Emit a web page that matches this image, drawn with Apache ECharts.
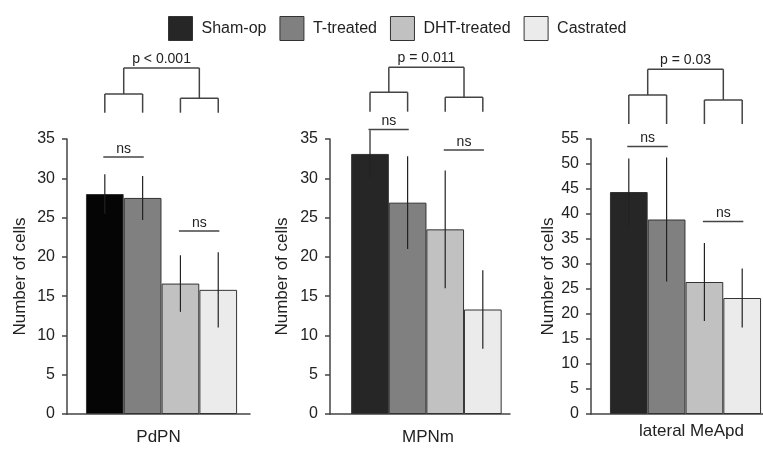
<!DOCTYPE html>
<html>
<head>
<meta charset="utf-8">
<script src="https://cdn.jsdelivr.net/npm/echarts@6.0.0/dist/echarts.min.js"></script>
<style>
  html, body { margin: 0; padding: 0; background: #fff; }
  #main { width: 763px; height: 451px; }
</style>
</head>
<body>
<div id="main"></div>
<script>
// data
var groups = ['Sham-op', 'T-treated', 'DHT-treated', 'Castrated'];
var regions = ['PdPN', 'MPNm', 'lateral MeApd'];
var yMax = [35, 35, 55];
var meanPdPN = [28.0, 27.5, 16.6, 15.8];
var errPdPN = [2.5, 2.8, 3.6, 4.8];
var meanMPNm = [33.1, 26.9, 23.5, 13.3];
var errMPNm = [3.0, 5.9, 7.5, 5.0];
var meanMeApd = [44.4, 38.9, 26.4, 23.2];
var errMeApd = [6.7, 12.4, 7.8, 5.9];
var pLabels = ['p < 0.001', 'p = 0.011', 'p = 0.03'];
var nsLabel = 'ns';

var means = [meanPdPN, meanMPNm, meanMeApd];
var errs = [errPdPN, errMPNm, errMeApd];

// layout
var font = 'Liberation Sans';
var barColors = [['#050505', '#262626', '#262626'], '#808080', '#c1c1c1', '#ebebeb'];
var grids = [
  { left: 67, width: 183, xMin: 0, xMax: 4.84, nameGap: 38, xPad: 0, xNameGap: 15 },
  { left: 330, width: 180, xMin: -0.064, xMax: 4.723, nameGap: 39, xPad: 16, xNameGap: 15 },
  { left: 591, width: 172, xMin: 0, xMax: 4.55, nameGap: 33, xPad: 29, xNameGap: 9 }
];
var nsLevels = [[32.7, 23.3], [36.2, 33.6], [53.5, 38.5]];
// pixel rows of the comparison brackets: top, left sub, right sub, legs end
var bracketRows = [[68, 94, 98.3, 112.7], [67.3, 92.3, 97.3, 111.7], [69.3, 95, 100, 124]];

var chart = echarts.init(document.getElementById('main'));

var option = {
  animation: false,
  textStyle: { fontFamily: font },
  legend: {
    left: 163,
    top: 11,
    itemWidth: 24,
    itemHeight: 24,
    itemGap: 13,
    icon: 'rect',
    selectedMode: false,
    itemStyle: { borderColor: '#333', borderWidth: 1 },
    textStyle: { fontSize: 16, color: '#222', padding: [0, 0, 0, 4] },
    data: groups.map(function (g, i) {
      return { name: g, itemStyle: { color: i === 0 ? '#262626' : barColors[i] } };
    })
  },
  grid: [],
  xAxis: [],
  yAxis: [],
  series: []
};

grids.forEach(function (g, p) {
  option.grid.push({ left: g.left, top: 139, width: g.width, height: 275, outerBoundsMode: 'none' });
  option.xAxis.push({
    type: 'value', gridIndex: p, min: g.xMin, max: g.xMax,
    name: regions[p], nameLocation: 'middle', nameGap: g.xNameGap,
    nameTextStyle: { fontSize: 17, color: '#222', padding: [0, 0, 0, g.xPad] },
    axisLine: { show: true, onZero: false, lineStyle: { color: '#444', width: 1.5 } },
    axisTick: { show: false }, axisLabel: { show: false }, splitLine: { show: false }
  });
  option.yAxis.push({
    type: 'value', gridIndex: p, min: 0, max: yMax[p], interval: 5,
    name: 'Number of cells', nameLocation: 'middle', nameGap: g.nameGap,
    nameTextStyle: { fontSize: 17, color: '#222' },
    axisLine: { show: true, onZero: false, lineStyle: { color: '#444', width: 1.5 } },
    axisTick: { show: true, length: 5, lineStyle: { color: '#444', width: 1.5 } },
    axisLabel: { fontSize: 16, color: '#222', margin: 12 },
    splitLine: { show: false }
  });

  groups.forEach(function (name, i) {
    var c = i === 0 ? barColors[0][p] : barColors[i];
    option.series.push({
      name: name, type: 'bar', xAxisIndex: p, yAxisIndex: p,
      barWidth: 37.7, barGap: '-100%',
      itemStyle: { color: c, borderColor: '#333', borderWidth: 1 },
      data: [[i + 1, means[p][i]]]
    });
  });

  // error bars
  option.series.push({
    type: 'custom', xAxisIndex: p, yAxisIndex: p, z: 5,
    data: means[p].map(function (m, i) { return [i + 1, m, errs[p][i]]; }),
    encode: { x: 0, y: 1 },
    renderItem: function (params, api) {
      var x = api.value(0), m = api.value(1), e = api.value(2);
      var a = api.coord([x, m + e]), b = api.coord([x, m - e]);
      return {
        type: 'line',
        shape: { x1: a[0], y1: a[1], x2: b[0], y2: b[1] },
        style: { stroke: '#222', lineWidth: 1.2 }
      };
    }
  });

  // significance brackets
  option.series.push({
    type: 'custom', xAxisIndex: p, yAxisIndex: p, z: 6, clip: false,
    data: [[2.5, 0]],
    encode: { x: 0, y: 1 },
    renderItem: function (params, api) {
      var X = function (u) { return api.coord([u, 0])[0]; };
      var Y = function (v) { return api.coord([0, v])[1]; };
      var ln = function (x1, y1, x2, y2) {
        return { type: 'line', shape: { x1: x1, y1: y1, x2: x2, y2: y2 },
                 style: { stroke: '#444', lineWidth: 1.5 } };
      };
      var tx = function (x, y, s) {
        return { type: 'text', x: x, y: y,
                 style: { text: s, fill: '#222', font: '14px "' + font + '"', align: 'center', verticalAlign: 'bottom' } };
      };
      var kids = [];
      [[1, 2], [3, 4]].forEach(function (pr, k) {
        var y = Y(nsLevels[p][k]);
        kids.push(ln(X(pr[0] - 0.04), y, X(pr[1] + 0.03), y));
        kids.push(tx(X((pr[0] + pr[1]) / 2), y - 1, nsLabel));
      });
      var r = bracketRows[p];
      kids.push(ln(X(1), r[1], X(2), r[1]));
      kids.push(ln(X(1), r[1], X(1), r[3]));
      kids.push(ln(X(2), r[1], X(2), r[3]));
      kids.push(ln(X(3), r[2], X(4), r[2]));
      kids.push(ln(X(3), r[2], X(3), r[3]));
      kids.push(ln(X(4), r[2], X(4), r[3]));
      kids.push(ln(X(1.5), r[0], X(1.5), r[1]));
      kids.push(ln(X(3.5), r[0], X(3.5), r[2]));
      kids.push(ln(X(1.5), r[0], X(3.5), r[0]));
      kids.push(tx(X(2.5), r[0] - 2, pLabels[p]));
      return { type: 'group', children: kids };
    }
  });
});

chart.setOption(option);
</script>
</body>
</html>
